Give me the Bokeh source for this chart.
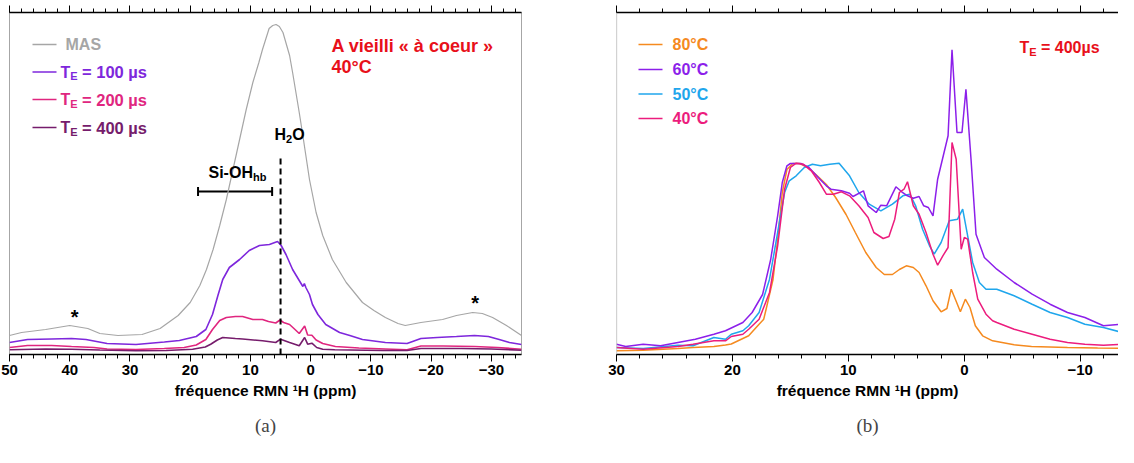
from bokeh.plotting import figure
from bokeh.layouts import row
from bokeh.models import (Range1d, LinearAxis, SingleIntervalTicker, Label, Span,
                          Whisker, TeeHead, Title)
from bokeh.embed import file_html
from bokeh.resources import INLINE

FONT = "Liberation Sans"

# ---------------- data : panel (a) ----------------
mas_ppm = [50, 48, 44, 40, 37, 35, 32, 28, 25, 22, 20, 18.4, 17.3, 16.2, 15.1, 14.0, 12.9, 11.8,
           10.7, 9.6, 8.6, 8.0, 6.9, 6.3, 5.75, 5.2, 4.6, 3.5, 3.0, 1.9, 1.3, 0.8, 0.2, -0.9, -2.0,
           -3.6, -5.9, -8.6, -10.5, -12.4, -14.5, -15.7, -18.3, -21.9, -24.2, -26.9, -28.5, -30.2,
           -32.5, -35]
mas_int = [19, 22, 25, 29, 26, 21, 19, 20, 26, 39, 52, 69, 85, 105, 129, 155, 185, 215,
           245, 272, 292, 305, 326, 329, 330, 328, 322, 299, 282, 242, 219, 199, 175, 142, 119,
           95, 72, 52, 44, 37, 31, 29, 32, 35, 39, 42, 41, 37,
           29, 19]

te100_ppm = [50, 47, 43, 39.7, 37.3, 33.8, 29, 24.3, 21.8, 19, 17.4, 16.3, 15.4, 14.6, 13.5, 11.8,
             10.2, 8.5, 6.85, 5.5, 4.9, 4.1, 3.0, 1.9, 1.3, 1.05, 0.8, 0.2, -0.3, -1.2, -2.5, -4.8,
             -6.5, -8.6, -12.4, -16, -18.3, -21, -24.2, -27.2, -29.5, -31.3, -33, -35]
te100_int = [12, 15, 15.5, 16, 15, 11, 10, 12.5, 14, 18, 25, 40, 59, 75, 87, 95,
             104, 109, 110, 113, 109, 100, 85, 74, 68, 71, 67, 60, 50, 40, 30, 22,
             19, 15, 12, 11, 16, 17, 18, 19, 18, 15, 12, 10]

te200_ppm = [50, 47, 43, 39.7, 36, 33.8, 29, 24.3, 21, 19, 17.4, 16.3, 15.1, 14.0, 12.5, 11.3, 9.6,
             8.0, 7.0, 5.8, 5.1, 4.5, 3.5, 2.6, 1.9, 1.0, 0.5, -0.2, -0.9, -2.0, -4.1, -8, -12.4,
             -16, -18.3, -22, -27.2, -31, -35]
te200_int = [7, 9, 9, 8, 7, 5.5, 5, 6, 7, 9.5, 15, 25, 34, 37, 38, 38, 35,
             35, 33, 31.5, 34.5, 32, 30, 25, 21, 28.5, 19.5, 19.3, 14.5, 11, 8, 6.5, 5.5,
             4.7, 8.5, 8.5, 8, 7, 5.3]

te400_ppm = [50, 44, 39.7, 35, 29, 24, 19.6, 17.5, 16.6, 15.5, 14.6, 12.5, 11.3, 8.0, 5.8, 5.0, 3.5,
             1.9, 1.0, 0.5, -0.2, -1.0, -2.0, -4, -6.5, -12, -16, -18.3, -25, -30, -35]
te400_int = [4.7, 5.5, 5.3, 4.5, 3.7, 4, 5.3, 7.5, 10.3, 14.5, 17, 16, 15.5, 13.7, 12, 15.3, 12,
             8.7, 17, 10.3, 11.3, 7, 5.3, 4.7, 4.5, 4, 4, 6, 6, 5.5, 4.3]

h2o_ppm = 5.0
sioh_lo, sioh_hi = 6.4, 18.7
sideband_ppm = [39.2, -27.3]

# ---------------- data : panel (b) ----------------
t80_ppm = [30, 27.7, 24.7, 23.4, 21.6, 20.6, 20.1, 18.6, 17.7, 17.3, 17.1, 16.5, 16.1, 15.7, 15.3,
           14.8, 14.2, 13.5, 12.8, 11.9, 11.1, 10.2, 9.4, 8.5, 7.6, 6.9, 6.2, 5.6, 5.0, 4.4, 3.9,
           3.3, 2.7, 2.0, 1.5, 1.13, 0.72, 0.34, -0.09, -0.49, -0.95, -1.58, -2.44, -4.3, -5.8,
           -8.9, -11.5, -13.3]
t80_int = [3.7, 4.3, 6, 7, 8, 9.5, 10.5, 18.7, 30.3, 35.3, 45, 75, 115, 162, 185,
           191, 191, 187, 180, 170, 157, 140, 122, 102, 87, 80, 80, 85, 88.7, 87, 82,
           68.7, 53.7, 42.7, 46, 65.3, 53.7, 42.7, 55.3, 47, 28.7, 18.7, 13.7, 9.7, 8,
           7, 6.5, 6.3]

t60_ppm = [30, 29.2, 27.7, 26.2, 24.7, 23.2, 21.6, 20.6, 19.1, 18.3, 17.4, 16.7, 16.1, 15.7, 15.3,
           15.0, 14.1, 13.4, 12.6, 11.9, 11.5, 10.6, 9.9, 9.6, 8.7, 8.3, 7.6, 7.2, 6.7, 5.9, 5.4,
           5.0, 4.4, 3.9, 3.5, 3.1, 2.7, 2.3, 1.4, 1.06, 0.63, 0.2, -0.14, -0.58, -1.01, -1.73,
           -2.8, -4.3, -5.85, -7.4, -8.9, -10.4, -12.0, -13.3]
t60_int = [10.3, 8, 10.3, 8.7, 12, 15.3, 20.3, 23.7, 32, 42, 60, 95, 138.7, 172, 188.7,
           191, 191, 187, 177, 168.7, 165.3, 163.7, 161.3, 158, 163.7, 148.7, 142, 149.3, 148.7,
           167.7, 162.7, 159.3, 156.3, 158, 148.7, 147, 138.7, 175.3, 218.7, 304.7, 222, 222,
           265.3, 195.3, 120.3, 97, 85.3, 72, 60.3, 50.3, 42, 37, 28.7, 30]

t50_ppm = [30, 27.7, 24.7, 23.4, 21.6, 20.6, 20.1, 19.1, 18.6, 17.7, 16.8, 16.1, 15.5, 15.1, 14.5,
           13.8, 13.1, 12.4, 11.6, 10.8, 9.9, 9.1, 8.2, 7.2, 6.2, 5.3, 4.7, 4.2, 3.6, 3.0, 2.6,
           2.0, 1.3, 0.58, 0.14, -0.29, -0.72, -1.3, -1.87, -2.8, -4.3, -5.85, -7.4, -8.9, -10.4,
           -12.0, -13.3]
t50_int = [7, 6, 9.3, 8.7, 17, 15.3, 20.3, 23.7, 28.7, 42, 75.3, 122, 162, 173.7, 178.7,
           187, 190.3, 188.7, 190.3, 191.3, 178.7, 162, 150.3, 143.7, 150.3, 158.7, 160.3, 148.7,
           125.3, 108.7, 100.3, 112, 133.7, 135.3, 145.3, 118.7, 92, 72, 65.3, 65.3, 58.7, 50.3,
           42, 37, 30.3, 27, 23]

t40_ppm = [30, 27.7, 24.7, 23.4, 21.6, 20.6, 20.1, 19.1, 18.6, 17.7, 16.8, 16.1, 15.5, 15.0, 14.5,
           13.9, 13.2, 12.5, 11.9, 11.3, 10.6, 9.9, 9.1, 8.3, 7.8, 7.0, 6.5, 6.0, 5.6, 5.2, 4.9,
           4.4, 3.9, 3.3, 2.7, 2.3, 1.85, 1.4, 1.06, 0.7, 0.27, 0.0, -0.29, -0.72, -1.16, -1.87,
           -2.44, -2.8, -4.3, -5.85, -7.4, -8.9, -10.4, -12.0, -13.3]
t40_int = [7, 5.3, 8, 10.3, 13.7, 13.7, 18, 20.3, 25.3, 35.3, 62, 108.7, 165.3, 187, 191.3,
           190.3, 183.7, 172, 160.3, 160.3, 162.7, 158.7, 148.7, 137, 122, 116, 118, 135.3, 162,
           165.3, 172.7, 148.7, 140.3, 122, 100.3, 89.3, 98.7, 107, 212, 195.3, 105.3, 117,
           115.3, 82, 55.3, 40.3, 33.7, 32, 25.3, 20.3, 15.3, 12, 10.3, 9.3, 10]

left_labels = ["MAS", "= 100 µs", "= 200 µs", "= 400 µs"]
right_labels = ["80°C", "60°C", "50°C", "40°C"]
tick_overrides = {-10: "\u221210", -20: "\u221220", -30: "\u221230"}

# ---------------- colours ----------------
C_MAS = "#A6A6A6"
C_100 = "#7E27DC"
C_200 = "#E0267F"
C_400 = "#761C6C"
C_80 = "#F58A1F"
C_60 = "#8C1FEA"
C_50 = "#1FA6EC"
C_40 = "#EC1C7D"
C_RED = "#E8101A"

# layout helpers (pixel position on the page -> data coordinate), for annotations only
def lx(px):
    return 50 - (px - 17) * 85 / 512

def rx(px):
    return 30 - (px - 624) * 43.3 / 502

def yy(py):
    return 362 - py


def style_axes(p, caption):
    ax = p.below[0]
    ax.ticker = SingleIntervalTicker(interval=10, num_minor_ticks=5)
    ax.axis_line_color = "black"
    ax.axis_line_width = 1.5
    ax.major_tick_in = 0
    ax.major_tick_out = 7
    ax.minor_tick_in = 0
    ax.minor_tick_out = 4
    ax.major_tick_line_color = "black"
    ax.minor_tick_line_color = "black"
    ax.major_label_text_font = FONT
    ax.major_label_text_font_size = "15px"
    ax.major_label_text_font_style = "bold"
    ax.major_label_text_color = "black"
    ax.major_label_standoff = 3
    ax.major_label_overrides = tick_overrides
    ax.axis_label = "fréquence RMN ¹H (ppm)"
    ax.axis_label_text_font = FONT
    ax.axis_label_text_font_size = "15.5px"
    ax.axis_label_text_font_style = "bold"
    ax.axis_label_text_color = "black"
    ax.axis_label_standoff = 4

    top = LinearAxis(ticker=SingleIntervalTicker(interval=10, num_minor_ticks=5),
                     major_label_text_font_size="1px", major_label_text_color=None,
                     major_label_standoff=0,
                     major_tick_in=0, major_tick_out=7, minor_tick_in=0, minor_tick_out=4,
                     axis_line_color="black", axis_line_width=1.5)
    p.add_layout(top, "above")
    p.add_layout(Title(text=caption, align="center", text_font="Liberation Serif",
                       text_font_size="19px", text_font_style="normal", standoff=23), "below")
    p.xgrid.visible = False
    p.ygrid.visible = False


def lbl(p, x, y, text, color="black", size="16px", align="left", style="bold"):
    p.add_layout(Label(x=x, y=y, text=text, text_font=FONT, text_font_size=size,
                       text_font_style=style, text_color=color, text_baseline="middle",
                       text_align=align))


# ================= panel (a) =================
pL = figure(width=560, height=447, title=None, x_range=Range1d(50, -35), y_range=Range1d(0, 342),
            output_backend="svg", toolbar_location=None, y_axis_location=None,
            min_border_left=9, min_border_right=39, min_border_top=12, min_border_bottom=93,
            outline_line_color=C_MAS, outline_line_width=1, background_fill_color="white",
            border_fill_color="white")
style_axes(pL, "(a)")

pL.line(mas_ppm, mas_int, line_color=C_MAS, line_width=1.2)
pL.line(te100_ppm, te100_int, line_color=C_100, line_width=1.6)
pL.line(te200_ppm, te200_int, line_color=C_200, line_width=1.6)
pL.line(te400_ppm, te400_int, line_color=C_400, line_width=1.6)

# H2O dashed marker and Si-OH bar
pL.segment(x0=[h2o_ppm], y0=[0], x1=[h2o_ppm], y1=[200], line_color="black",
           line_width=2, line_dash="6 4")
pL.add_layout(Whisker(base=163, lower=sioh_lo, upper=sioh_hi, dimension="width",
                      line_color="black", line_width=2,
                      lower_head=TeeHead(size=9, line_width=2, line_color="black"),
                      upper_head=TeeHead(size=9, line_width=2, line_color="black")))

# legend (manual, to allow subscripts)
leg_cols = [C_MAS, C_100, C_200, C_400]
leg_rows = [52, 79.5, 107, 135]
for c, r, t in zip(leg_cols, leg_rows, left_labels):
    pL.segment(x0=[lx(40)], y0=[yy(r)], x1=[lx(64)], y1=[yy(r)], line_color=c, line_width=1.6)
    if t == "MAS":
        lbl(pL, lx(73), yy(r), t, c)
    else:
        lbl(pL, lx(68), yy(r), "T", c)
        lbl(pL, lx(68 + 9.8), yy(r + 4), "E", c, size="11px")
        lbl(pL, lx(68 + 21.5), yy(r), t, c, size="16.5px")

lbl(pL, lx(339), yy(53), "A vieilli « à coeur »", C_RED, size="18px")
lbl(pL, lx(339), yy(74), "40°C", C_RED, size="18px")

lbl(pL, lx(216), yy(180), "Si-OH", "black", size="16px")
lbl(pL, lx(216 + 44.5), yy(184), "hb", "black", size="11px")
lbl(pL, lx(282), yy(142), "H", "black", size="16px")
lbl(pL, lx(282 + 11.6), yy(146), "2", "black", size="11px")
lbl(pL, lx(282 + 17.8), yy(142), "O", "black", size="16px")

lbl(pL, sideband_ppm[0], yy(324), "*", "black", size="20px", align="center")
lbl(pL, sideband_ppm[1], yy(310), "*", "black", size="20px", align="center")

# ================= panel (b) =================
pR = figure(width=558, height=447, title=None, x_range=Range1d(30, -13.3), y_range=Range1d(0, 342),
            output_backend="svg", toolbar_location=None, y_axis_location=None,
            min_border_left=56, min_border_right=0, min_border_top=12, min_border_bottom=93,
            outline_line_color=None, background_fill_color="white", border_fill_color="white")
style_axes(pR, "(b)")
pR.add_layout(Span(location=30, dimension="height", line_color=C_MAS, line_width=1.2))

pR.line(t80_ppm, t80_int, line_color=C_80, line_width=1.5)
pR.line(t50_ppm, t50_int, line_color=C_50, line_width=1.5)
pR.line(t60_ppm, t60_int, line_color=C_60, line_width=1.5)
pR.line(t40_ppm, t40_int, line_color=C_40, line_width=1.5)

r_cols = [C_80, C_60, C_50, C_40]
r_rows = [52, 77, 101.5, 126]
for c, r, t in zip(r_cols, r_rows, right_labels):
    pR.segment(x0=[rx(646)], y0=[yy(r)], x1=[rx(670)], y1=[yy(r)], line_color=c, line_width=1.6)
    lbl(pR, rx(680), yy(r), t, c, size="16px")

lbl(pR, rx(1027), yy(55), "T", C_RED, size="16px")
lbl(pR, rx(1027 + 9.8), yy(59), "E", C_RED, size="11px")
lbl(pR, rx(1027 + 21.5), yy(55), "= 400µs", C_RED, size="16px")

layout = row(pL, pR)
open("out.html", "w").write(file_html(layout, INLINE))
